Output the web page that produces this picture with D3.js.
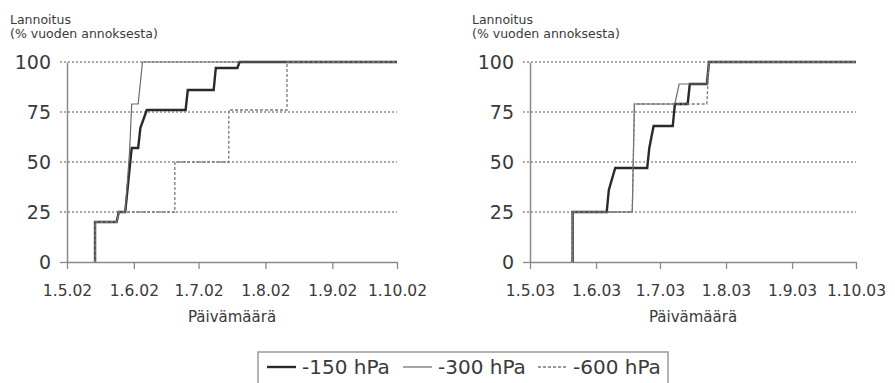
<!DOCTYPE html>
<html><head><meta charset="utf-8">
<script src="https://cdn.jsdelivr.net/npm/d3@7"></script>
<style>
html,body{margin:0;padding:0;background:#fff;}
svg{display:block;font-family:"DejaVu Sans",sans-serif;}
</style></head>
<body><svg id="c" width="895" height="383"></svg>
<script>
// ---- data ----
const yTicks = [0, 25, 50, 75, 100];
const gridValues = [25, 50, 75, 100];
const xTickDates02 = ["2002-05-01","2002-06-01","2002-07-01","2002-08-01","2002-09-01","2002-10-01"];
const xTickLabels02 = ["1.5.02","1.6.02","1.7.02","1.8.02","1.9.02","1.10.02"];
const xTickDates03 = ["2003-05-01","2003-06-01","2003-07-01","2003-08-01","2003-09-01","2003-10-01"];
const xTickLabels03 = ["1.5.03","1.6.03","1.7.03","1.8.03","1.9.03","1.10.03"];
const seriesNames = ["-150 hPa","-300 hPa","-600 hPa"];
const yTitle = ["Lannoitus","(% vuoden annoksesta)"];
const xTitle = "Päivämäärä";

// 2002
const d150_02 = ["2002-05-14","2002-05-14","2002-05-24","2002-05-25","2002-05-28","2002-05-31","2002-06-03","2002-06-04","2002-06-07","2002-06-25","2002-06-26","2002-07-08","2002-07-09","2002-07-19","2002-07-20","2002-10-01"];
const v150_02 = [0,20,20,25,25,57,57,67,76,76,86,86,97,97,100,100];
const d300_02 = ["2002-05-14","2002-05-14","2002-05-24","2002-05-25","2002-05-28","2002-05-30","2002-05-31","2002-06-03","2002-06-05","2002-10-01"];
const v300_02 = [0,20,20,25,25,55,79,79,100,100];
const d600_02 = ["2002-05-14","2002-05-14","2002-05-24","2002-05-25","2002-06-20","2002-06-20","2002-07-15","2002-07-15","2002-08-11","2002-08-11","2002-10-01"];
const v600_02 = [0,20,20,25,25,50,50,76,76,100,100];
// 2003
const d150_03 = ["2003-05-21","2003-05-21","2003-06-06","2003-06-07","2003-06-10","2003-06-25","2003-06-26","2003-06-28","2003-07-07","2003-07-08","2003-07-14","2003-07-15","2003-07-23","2003-07-24","2003-10-01"];
const v150_03 = [0,25,25,36,47,47,57,68,68,79,79,89,89,100,100];
const d300_03 = ["2003-05-21","2003-05-21","2003-06-18","2003-06-19","2003-07-08","2003-07-10","2003-07-23","2003-07-24","2003-10-01"];
const v300_03 = [0,25,25,79,79,89,89,100,100];
const d600_03 = ["2003-05-21","2003-05-21","2003-06-18","2003-06-19","2003-07-23","2003-07-24","2003-10-01"];
const v600_03 = [0,25,25,79,79,100,100];

// ---- styles ----
const styles = [
  {stroke:"#2a2a2a", width:2.4, dash:null},
  {stroke:"#6a6a6a", width:1.2, dash:null},
  {stroke:"#7a7a7a", width:1.3, dash:"3,2"}
];
const axisColor = "#8a8a8a";
const textColor = "#3a3a3a";

const parse = d3.timeParse("%Y-%m-%d");
const svg = d3.select("#c");

const panels = [
  {x0:67, x1:397, titleX:10, tickDates:xTickDates02, tickLabels:xTickLabels02,
   series:[[d150_02,v150_02],[d300_02,v300_02],[d600_02,v600_02]]},
  {x0:530, x1:856, titleX:472, tickDates:xTickDates03, tickLabels:xTickLabels03,
   series:[[d150_03,v150_03],[d300_03,v300_03],[d600_03,v600_03]]}
];
const yTop = 62, yBot = 262;

panels.forEach(p => {
  const dates = p.tickDates.map(parse);
  const x = d3.scaleTime().domain([dates[0], dates[dates.length-1]]).range([p.x0, p.x1]);
  const y = d3.scaleLinear().domain([0,100]).range([yBot, yTop]);
  const g = svg.append("g");

  // gridlines
  g.selectAll("line.grid").data(gridValues).join("line")
    .attr("x1", p.x0 - 7).attr("x2", p.x1)
    .attr("y1", d => y(d)).attr("y2", d => y(d))
    .attr("stroke", "#8f8f8f").attr("stroke-width", 1.3)
    .attr("stroke-dasharray", "2,2");

  // y axis
  const ya = g.append("g").attr("transform", `translate(${p.x0},0)`)
    .call(d3.axisLeft(y).tickValues(yTicks).tickSize(7).tickSizeOuter(0).tickPadding(9));
  // x axis
  const labelMap = new Map(dates.map((d,i)=>[+d, p.tickLabels[i]]));
  const xa = g.append("g").attr("transform", `translate(0,${yBot})`)
    .call(d3.axisBottom(x).tickValues(dates).tickSize(7).tickSizeOuter(0).tickPadding(16)
      .tickFormat(d => labelMap.get(+d)));
  [ya, xa].forEach(a => {
    a.select(".domain").attr("stroke", axisColor).attr("stroke-width", 1.5);
    a.selectAll(".tick line").attr("stroke", axisColor).attr("stroke-width", 1.3);
    a.selectAll("text").attr("fill", textColor).attr("font-family", "DejaVu Sans");
  });
  ya.selectAll("text").attr("font-size", 19);
  ya.selectAll(".tick").filter(d => d !== 0).select("line").remove();
  xa.selectAll("text").attr("font-size", 15.5);

  // series
  const line = d3.line().x(d => x(d[0])).y(d => y(d[1]));
  p.series.forEach((s, i) => {
    const pts = s[0].map((d, k) => [parse(d), s[1][k]]);
    g.append("path").datum(pts).attr("d", line)
      .attr("fill", "none").attr("stroke", styles[i].stroke)
      .attr("stroke-width", styles[i].width)
      .attr("stroke-dasharray", styles[i].dash);
  });

  // titles
  g.append("text").attr("x", p.titleX).attr("y", 24).text(yTitle[0])
    .attr("font-size", 12.5).attr("fill", textColor);
  g.append("text").attr("x", p.titleX).attr("y", 38).text(yTitle[1])
    .attr("font-size", 12.5).attr("fill", textColor);
  g.append("text").attr("x", (p.x0 + p.x1)/2).attr("y", 322).attr("text-anchor","middle")
    .text(xTitle).attr("font-size", 15).attr("fill", textColor);
});

// legend
const lg = svg.append("g");
lg.append("rect").attr("x", 258).attr("y", 352).attr("width", 410).attr("height", 40)
  .attr("fill", "none").attr("stroke", "#9a9a9a").attr("stroke-width", 1.5);
const legX = [267, 403, 538];
seriesNames.forEach((n, i) => {
  lg.append("line").attr("x1", legX[i]).attr("x2", legX[i] + 29)
    .attr("y1", 367).attr("y2", 367)
    .attr("stroke", styles[i].stroke).attr("stroke-width", styles[i].width)
    .attr("stroke-dasharray", styles[i].dash);
  lg.append("text").attr("x", legX[i] + 35).attr("y", 374).text(n)
    .attr("font-size", 20).attr("fill", textColor);
});
</script></body></html>
